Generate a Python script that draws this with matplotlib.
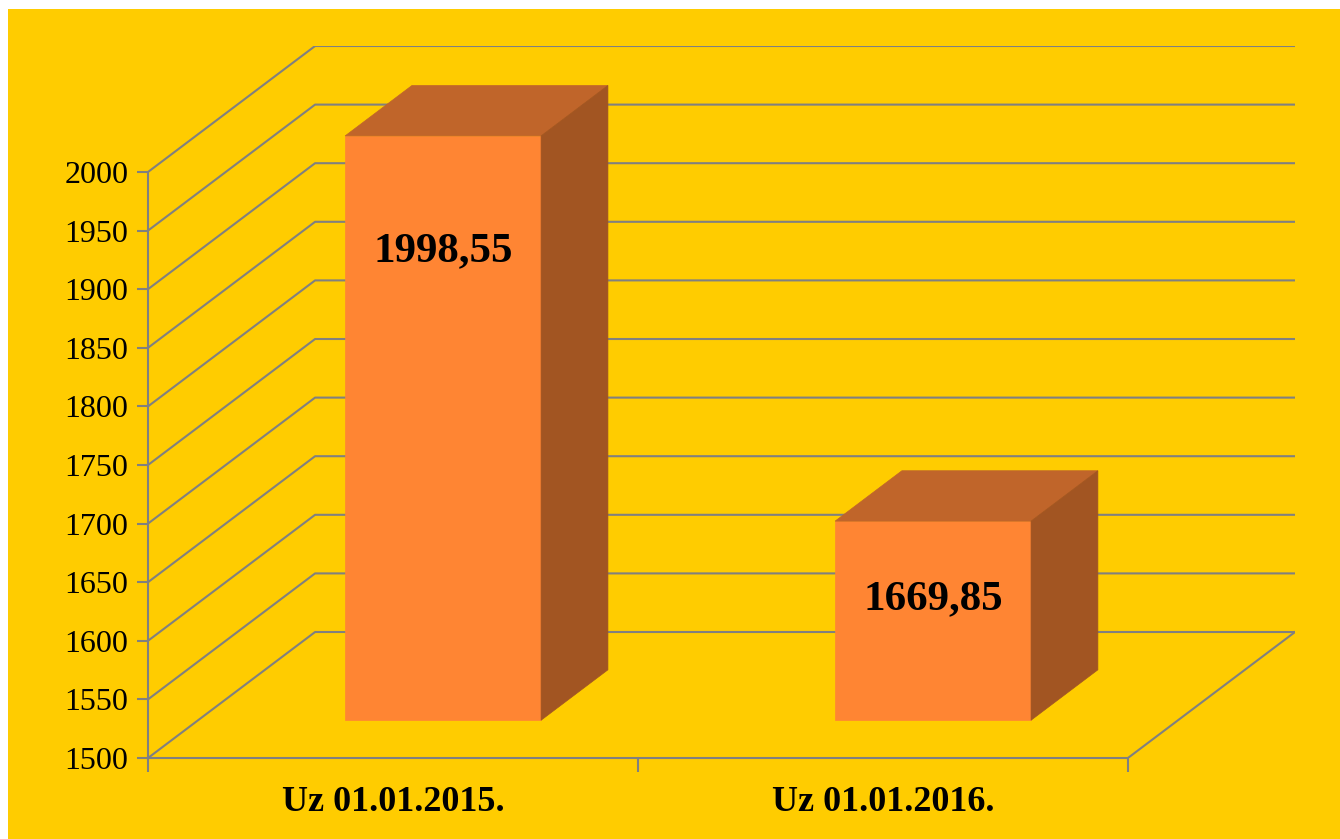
import numpy as np
import matplotlib.pyplot as plt
from matplotlib.patches import Polygon, Rectangle

categories = ["Uz 01.01.2015.", "Uz 01.01.2016."]
values = [1998.55, 1669.85]
value_labels = ["1998,55", "1669,85"]
yticks = np.arange(1500, 2001, 50)

W, H = 1340, 839
ymin, ymax = 1500, 2000
# oblique depth offset in data units (category units / value units)
DX, DY = 0.341, 107.5
d0, d1 = 0.3, 0.7   # bar depth span as fraction of the full depth
bw = 0.4

grid_c = "#808080"
bg = "#FFCC00"
front_c, top_c, side_c = "#FF8533", "#C0652A", "#A25522"

fig = plt.figure(figsize=(W / 100, H / 100), dpi=100, facecolor="white")
fig.patches.append(Rectangle((8 / W, 0), 1 - 8 / W, 1 - 9 / H,
                             transform=fig.transFigure, facecolor=bg,
                             edgecolor="none", zorder=-10))

ax = fig.add_axes([148 / W, (H - 758) / H, 1147 / W, 712 / H])
ax.set_facecolor("none")
ax.set_xlim(0, len(categories) + DX)
ax.set_ylim(ymin, ymax + DY)

# walls / gridlines
n = len(categories)
for v in yticks:
    ax.plot([0, DX, n + DX], [v, v + DY, v + DY], color=grid_c, lw=1.5,
            zorder=1, solid_capstyle="butt")
# floor right edge
ax.plot([n, n + DX], [ymin, ymin + DY], color=grid_c, lw=1.5, zorder=1)

# bars
for i, v in enumerate(values):
    x0 = i + 0.5 - bw / 2 + d0 * DX
    x1 = x0 + bw
    yb = ymin + d0 * DY
    yt = v + d0 * DY
    ox, oy = (d1 - d0) * DX, (d1 - d0) * DY
    ax.add_patch(Polygon([(x0, yb), (x1, yb), (x1, yt), (x0, yt)],
                         facecolor=front_c, edgecolor=front_c, lw=0.5, zorder=3))
    ax.add_patch(Polygon([(x0, yt), (x1, yt), (x1 + ox, yt + oy), (x0 + ox, yt + oy)],
                         facecolor=top_c, edgecolor=top_c, lw=0.5, zorder=3))
    ax.add_patch(Polygon([(x1, yb), (x1, yt), (x1 + ox, yt + oy), (x1 + ox, yb + oy)],
                         facecolor=side_c, edgecolor=side_c, lw=0.5, zorder=3))
    off = min(98, 0.39 * (v - ymin))
    ax.text((x0 + x1) / 2, yt - off, value_labels[i], ha="center", va="center",
            family="Liberation Serif", fontweight="bold", fontsize=31, zorder=4)

for s in ["top", "right"]:
    ax.spines[s].set_visible(False)
ax.spines["left"].set_bounds(ymin, ymax)
ax.spines["bottom"].set_bounds(0, n)
for s in ["left", "bottom"]:
    ax.spines[s].set_color(grid_c)
    ax.spines[s].set_linewidth(1.5)
    ax.spines[s].set_zorder(2)

ax.set_yticks(yticks)
ax.set_yticklabels([str(t) for t in yticks], family="Liberation Serif", fontsize=23)
ax.set_xticks(np.arange(n + 1))
ax.set_xticklabels([])
ax.set_xticks(np.arange(n) + 0.5, minor=True)
ax.set_xticklabels(categories, minor=True, family="Liberation Serif",
                   fontweight="bold", fontsize=26)
ax.tick_params(axis="y", length=8, width=1.5, color=grid_c, pad=6)
ax.tick_params(axis="x", which="major", length=10, width=1.5, color=grid_c)
ax.tick_params(axis="x", which="minor", length=0, pad=20)

fig.savefig("out.png", dpi=100, facecolor=fig.get_facecolor())
